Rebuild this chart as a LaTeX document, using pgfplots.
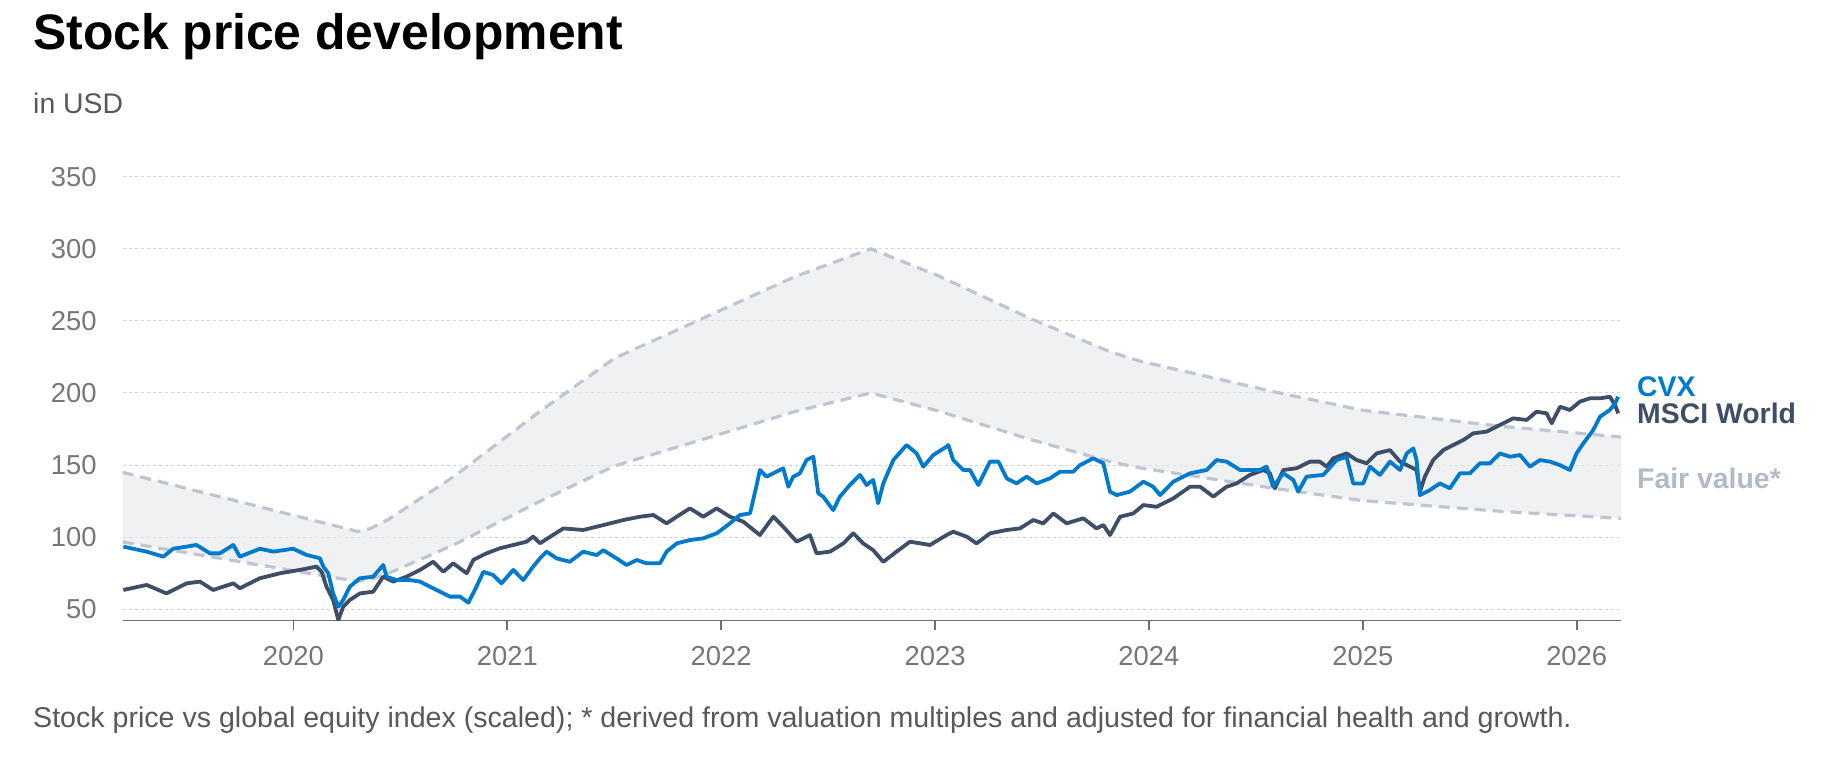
\documentclass[border=0pt]{standalone}
\usepackage{fontspec}
\setmainfont{Liberation Sans}
\usepackage{pgfplots}
\pgfplotsset{compat=1.18}
\definecolor{cvx}{RGB}{0,122,204}
\definecolor{msci}{RGB}{62,78,102}
\definecolor{fv}{RGB}{192,198,207}
\definecolor{fvtext}{RGB}{178,186,197}
\definecolor{band}{RGB}{228,231,235}
\definecolor{gridc}{RGB}{212,212,212}
\definecolor{tickc}{RGB}{118,118,118}
\definecolor{axc}{RGB}{110,110,110}
\definecolor{subc}{RGB}{88,88,88}

\begin{document}
\begin{tikzpicture}
\path (0bp,0bp) rectangle (1830bp,758bp);
\begin{axis}[
  at={(122.7bp,137.3bp)}, anchor=south west,
  scale only axis, width=1498.3bp, height=446.9bp,
  xmin=2019.202, xmax=2026.207, ymin=42.1, ymax=352,
  axis x line*=bottom, axis y line*=left,
  y axis line style={draw=none},
  x axis line style={draw=axc, line width=1.6bp, -},
  xtick={2020,2021,2022,2023,2024,2025,2026},
  xticklabels={2020,2021,2022,2023,2024,2025,2026},
  ytick={50,100,150,200,250,300,350},
  yticklabels={50,100,150,200,250,300,350},
  ymajorgrids,
  grid style={draw=gridc, line width=1bp, dash pattern=on 3bp off 3bp},
  major tick length=9bp, tick align=outside,
  xtick style={draw=axc, line width=1.6bp},
  ytick style={draw=none},
  ticklabel style={font=\fontsize{27.5}{33}\selectfont, text=tickc, inner sep=0pt},
  yticklabel style={anchor=east, xshift=-17bp},
  xticklabel style={anchor=base, yshift=-36bp},
]
% fair value band (upper line forward, lower line backward)
\addplot[fill=band, fill opacity=0.6, draw=none, forget plot] coordinates {
(2019.202,145) (2020.30,104) (2020.36,106) (2020.44,112) (2020.75,142) (2021.15,187)
(2021.50,224) (2022.35,281) (2022.70,300) (2023.02,281) (2023.44,252) (2023.82,228.5)
(2023.96,222) (2024.58,201) (2025.00,188) (2025.64,177) (2026.207,169.5)
(2026.207,113) (2025.64,118) (2025.00,125.33) (2024.58,134) (2023.96,148) (2023.82,152.33)
(2023.44,168) (2023.02,187.33) (2022.70,200) (2022.35,187.33) (2021.50,149.33)
(2021.15,124.67) (2020.75,94.67) (2020.44,74.67) (2020.36,70.67) (2020.30,69.33)
(2019.202,96.67)
} -- cycle;
\addplot[fv, line width=3.2bp, dash pattern=on 11bp off 7bp] coordinates {
(2019.202,145) (2020.30,104) (2020.36,106) (2020.44,112) (2020.75,142) (2021.15,187)
(2021.50,224) (2022.35,281) (2022.70,300) (2023.02,281) (2023.44,252) (2023.82,228.5)
(2023.96,222) (2024.58,201) (2025.00,188) (2025.64,177) (2026.207,169.5)
};
\addplot[fv, line width=3.2bp, dash pattern=on 11bp off 7bp] coordinates {
(2019.202,96.67) (2020.30,69.33) (2020.36,70.67) (2020.44,74.67) (2020.75,94.67)
(2021.15,124.67) (2021.50,149.33) (2022.35,187.33) (2022.70,200) (2023.02,187.33)
(2023.44,168) (2023.82,152.33) (2023.96,148) (2024.58,134) (2025.00,125.33)
(2025.64,118) (2026.207,113)
};

% MSCI World
\addplot[msci, line width=3.8bp, line join=round] coordinates {
(2019.205,63.4) (2019.314,66.9) (2019.407,61) (2019.501,68) (2019.563,69.2) (2019.625,63.4)
(2019.719,68) (2019.750,64.6) (2019.843,71.5) (2019.937,75) (2020.030,77.3) (2020.108,79.6)
(2020.132,76) (2020.155,65.7) (2020.186,56.5) (2020.210,42.6) (2020.233,51.8) (2020.264,56.5)
(2020.311,61) (2020.373,62.2) (2020.420,72.6) (2020.467,69.2) (2020.529,72.6) (2020.592,77.3)
(2020.654,83) (2020.701,76) (2020.747,81.9) (2020.810,75) (2020.841,84.2) (2020.903,88.8)
(2020.965,92.3) (2021.028,94.6) (2021.090,96.9) (2021.121,100.4) (2021.153,95.8)
(2021.262,106.1) (2021.355,105) (2021.449,108.4) (2021.542,111.9) (2021.620,114.2)
(2021.683,115.4) (2021.745,109.6) (2021.792,114.2) (2021.854,120) (2021.916,114.2)
(2021.979,120) (2022.041,114.2) (2022.103,110.8) (2022.181,101.5) (2022.244,114.2)
(2022.290,107.3) (2022.353,96.9) (2022.415,101.5) (2022.446,88.8) (2022.509,90)
(2022.571,95.7) (2022.618,102.7) (2022.664,95.7) (2022.711,91) (2022.758,82.9)
(2022.820,90) (2022.883,96.9) (2022.976,94.6) (2023.054,101.5) (2023.085,103.8)
(2023.148,100.4) (2023.194,95.7) (2023.257,102.7) (2023.335,105) (2023.397,106.1)
(2023.459,111.9) (2023.506,109.6) (2023.553,116.5) (2023.615,109.6) (2023.693,113.1)
(2023.755,106.1) (2023.787,108.4) (2023.818,101.5) (2023.865,114.2) (2023.927,116.5)
(2023.974,122.3) (2024.036,121.1) (2024.114,126.9) (2024.192,135) (2024.239,135)
(2024.301,128.1) (2024.363,135) (2024.410,137.3) (2024.472,143.2) (2024.535,146.6)
(2024.566,144.3) (2024.589,133.9) (2024.628,146.6) (2024.690,147.8) (2024.753,152.4)
(2024.799,152.4) (2024.831,148.9) (2024.862,154.7) (2024.924,158.1) (2024.971,153.5)
(2025.018,151.2) (2025.064,158.1) (2025.127,160.4) (2025.174,152.4) (2025.220,148.9)
(2025.251,146.6) (2025.267,131.6) (2025.290,142) (2025.329,153.5) (2025.376,160.4)
(2025.423,163.9) (2025.470,167.4) (2025.516,172) (2025.579,173.2) (2025.641,177.8)
(2025.703,182.4) (2025.766,181.3) (2025.812,187) (2025.859,185.9) (2025.883,179)
(2025.922,190.5) (2025.968,188.2) (2026.015,194) (2026.062,196.3) (2026.109,196.3)
(2026.155,197.4) (2026.179,191.7) (2026.194,185.9)
};

% CVX
\addplot[cvx, line width=3.8bp, line join=round] coordinates {
(2019.205,93.5) (2019.251,92) (2019.314,90) (2019.392,86.5) (2019.438,92) (2019.547,94.6)
(2019.610,88.8) (2019.656,88.8) (2019.719,94.6) (2019.750,86.5) (2019.843,92) (2019.906,90)
(2019.999,92) (2020.062,87.7) (2020.124,85.4) (2020.140,79.6) (2020.163,75) (2020.186,61)
(2020.210,51.8) (2020.233,56.5) (2020.264,65.7) (2020.311,71.5) (2020.373,72.6)
(2020.420,80.7) (2020.436,72.6) (2020.482,70.3) (2020.545,70.3) (2020.592,69.2)
(2020.669,63.4) (2020.732,58.8) (2020.779,58.8) (2020.818,54.6) (2020.856,65.7)
(2020.888,76) (2020.934,73.8) (2020.973,68) (2021.028,77.3) (2021.075,70.3) (2021.121,79.6)
(2021.153,85.4) (2021.184,90) (2021.231,85.3) (2021.293,83) (2021.355,90) (2021.418,87.6)
(2021.449,91) (2021.511,85.3) (2021.558,80.7) (2021.605,84.2) (2021.651,81.9)
(2021.714,81.9) (2021.745,90) (2021.792,95.7) (2021.854,98) (2021.916,99.2)
(2021.979,102.7) (2022.041,109.6) (2022.088,115.4) (2022.135,116.5) (2022.166,136.2)
(2022.181,146.6) (2022.212,142) (2022.244,144.3) (2022.290,147.8) (2022.314,135)
(2022.337,142) (2022.368,144.3) (2022.399,153.5) (2022.431,155.8) (2022.454,130.4)
(2022.477,128.1) (2022.524,118.8) (2022.555,128.1) (2022.602,136.2) (2022.649,143.2)
(2022.680,136.2) (2022.711,139.7) (2022.734,123.5) (2022.758,137.3) (2022.805,153.5)
(2022.867,163.9) (2022.914,158.1) (2022.945,148.9) (2022.992,157) (2023.054,162.8)
(2023.062,163.9) (2023.085,153.5) (2023.132,146.6) (2023.163,146.6) (2023.202,136.2)
(2023.257,152.4) (2023.296,152.4) (2023.335,140.8) (2023.381,137.3) (2023.428,142)
(2023.475,137.3) (2023.537,140.8) (2023.584,145.4) (2023.646,145.4) (2023.677,150)
(2023.740,154.7) (2023.787,151.2) (2023.818,131.6) (2023.849,129.2) (2023.911,131.6)
(2023.974,138.5) (2024.020,135) (2024.052,129.2) (2024.114,138.5) (2024.192,144.3)
(2024.270,146.6) (2024.316,153.5) (2024.363,152.4) (2024.426,146.6) (2024.472,146.6)
(2024.519,146.6) (2024.550,148.9) (2024.581,135) (2024.628,144.3) (2024.675,139.7)
(2024.698,131.6) (2024.737,142) (2024.815,143.2) (2024.877,153.5) (2024.924,155.8)
(2024.955,137.3) (2025.002,137.3) (2025.033,148.9) (2025.080,143.2) (2025.127,152.4)
(2025.174,146.6) (2025.205,158.1) (2025.236,161.6) (2025.251,153.5) (2025.267,129.2)
(2025.314,132.7) (2025.360,137.3) (2025.407,133.9) (2025.454,144.3) (2025.501,144.3)
(2025.547,151.2) (2025.594,151.2) (2025.641,158.1) (2025.688,155.8) (2025.735,157)
(2025.781,148.9) (2025.828,153.5) (2025.875,152.4) (2025.921,150) (2025.968,146.6)
(2025.999,158.1) (2026.031,165.1) (2026.077,174.3) (2026.109,183.6) (2026.155,188.2)
(2026.179,192.8) (2026.194,197.4)
};
\end{axis}
\node[anchor=base west, inner sep=0pt, font=\fontsize{50}{60}\selectfont\bfseries] at (33bp,708bp) {Stock price development};
\node[anchor=base west, inner sep=0pt, font=\fontsize{28.5}{34}\selectfont, text=subc] at (33bp,644bp) {in USD};
\node[anchor=base west, inner sep=0pt, font=\fontsize{28.7}{34}\selectfont, text=subc] at (33bp,31bp) {Stock price vs global equity index (scaled); * derived from valuation multiples and adjusted for financial health and growth.};
\node[anchor=west, inner sep=0pt, font=\fontsize{28.5}{34}\selectfont\bfseries, text=cvx] at (1637bp,371bp) {CVX};
\node[anchor=west, inner sep=0pt, font=\fontsize{28.5}{34}\selectfont\bfseries, text=msci] at (1637bp,345bp) {MSCI World};
\node[anchor=west, inner sep=0pt, font=\fontsize{28.5}{34}\selectfont\bfseries, text=fvtext] at (1637bp,280bp) {Fair value*};
\end{tikzpicture}
\end{document}
